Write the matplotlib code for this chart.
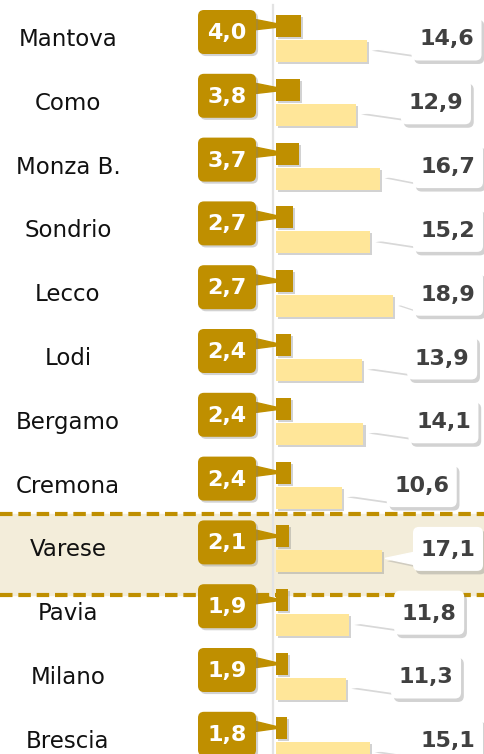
import matplotlib
matplotlib.use("Agg")
import matplotlib.pyplot as plt
import matplotlib.patheffects as pe
from matplotlib.patches import FancyBboxPatch, Polygon
import numpy as np

# ---- data ----
provinces = ["Mantova", "Como", "Monza B.", "Sondrio", "Lecco", "Lodi",
             "Bergamo", "Cremona", "Varese", "Pavia", "Milano", "Brescia"]
dark_vals = [4.0, 3.8, 3.7, 2.7, 2.7, 2.4, 2.4, 2.4, 2.1, 1.9, 1.9, 1.8]
light_vals = [14.6, 12.9, 16.7, 15.2, 18.9, 13.9, 14.1, 10.6, 17.1, 11.8, 11.3, 15.1]
highlight = "Varese"

# ---- style ----
GOLD = "#BF8F00"
LIGHT = "#FFE699"
BAND = "#F3EDDA"
TXT = "#404040"
W, H = 485, 754

fig = plt.figure(figsize=(W / 100, H / 100), dpi=100)
ax = fig.add_axes([0, 0, 1, 1])
ax.axis("off")

px_per_unit = 6.2
x0_px = 276
row_px = 63.8
row0_px = 38.5
ax.set_xlim(-x0_px / px_per_unit, (W - x0_px) / px_per_unit)
ax.set_ylim((H - row0_px) / row_px, -row0_px / row_px)

rows = np.arange(len(provinces))
bh = 22 / row_px
off = 12.5 / row_px

shadow = [pe.SimplePatchShadow(offset=(1.5, -1.5), shadow_rgbFace="#808080", alpha=0.35), pe.Normal()]

# highlight band
hi = provinces.index(highlight)
ax.axhspan(hi - 34.9 / row_px, hi + 46 / row_px, color=BAND, zorder=0)
for yy in (hi - 34.9 / row_px, hi + 46 / row_px):
    ax.axhline(yy, color=GOLD, lw=3, linestyle=(0, (3.0, 1.4)), zorder=1)

# axis line
ax.plot([-3.5 / px_per_unit] * 2, [-0.52, 11.3], color="#E3E3E3", lw=1.6, zorder=1)

dark_bars = ax.barh(rows - off, dark_vals, height=bh, color=GOLD, zorder=4)
light_bars = ax.barh(rows + off, light_vals, height=bh, color=LIGHT, zorder=3)
for b in list(dark_bars) + list(light_bars):
    b.set_path_effects(shadow)

# overlay axes in pixel coordinates for callouts
pax = fig.add_axes([0, 0, 1, 1], facecolor="none")
pax.set_xlim(0, W)
pax.set_ylim(H, 0)
pax.axis("off")


def to_px(x, y):
    dx, dy = ax.transData.transform((x, y))
    return dx, H - dy


for i, name in enumerate(provinces):
    # category label
    _, cy = to_px(0, i)
    pax.text(68, cy + 1, name, ha="center", va="center", fontsize=16.5,
             color="#111111", family="DejaVu Sans", zorder=6)

    # dark callout
    bx_end, by = to_px(dark_vals[i], i - off)
    bx0, _ = to_px(0, i - off)
    bw, bhh = 58, 44
    bcx, bcy = 227, by + 6
    tip = ((bx0 + bx_end) / 2, by)
    poly = Polygon([(bcx + bw / 2 - 3, bcy - 13), (bcx + bw / 2 - 3, bcy - 2), tip],
                   closed=True, color=GOLD, zorder=5)
    pax.add_patch(poly)
    box = FancyBboxPatch((bcx - bw / 2 + 5, bcy - bhh / 2 + 5), bw - 10, bhh - 10,
                         boxstyle="round,pad=5,rounding_size=6", fc=GOLD, ec="none", zorder=5)
    box.set_path_effects(shadow)
    pax.add_patch(box)
    pax.text(bcx, bcy + 1, f"{dark_vals[i]:.1f}".replace(".", ","), ha="center", va="center",
             fontsize=16, fontweight="bold", color="white", zorder=7)

    # light callout
    lx_end, ly = to_px(light_vals[i], i + off)
    ww, wh = 70, 44
    wcx = min(lx_end + 80, 448)
    wcy = cy
    tipw = (lx_end + 3, ly - 3)
    poly = Polygon([(wcx - ww / 2 + 3, wcy + 3), (wcx - ww / 2 + 3, wcy + 16), tipw],
                   closed=True, color="white", zorder=5)
    poly.set_path_effects([pe.SimplePatchShadow(offset=(1.5, -2), shadow_rgbFace="#909090", alpha=0.35), pe.Normal()])
    pax.add_patch(poly)
    box = FancyBboxPatch((wcx - ww / 2 + 5, wcy - wh / 2 + 5), ww - 10, wh - 10,
                         boxstyle="round,pad=5,rounding_size=6", fc="white", ec="none", zorder=5)
    box.set_path_effects([pe.SimplePatchShadow(offset=(2, -2.5), shadow_rgbFace="#808080", alpha=0.35), pe.Normal()])
    pax.add_patch(box)
    pax.text(wcx, wcy + 1, f"{light_vals[i]:.1f}".replace(".", ","), ha="center", va="center",
             fontsize=16, fontweight="bold", color=TXT, zorder=7)

fig.savefig("out.png", dpi=100)
